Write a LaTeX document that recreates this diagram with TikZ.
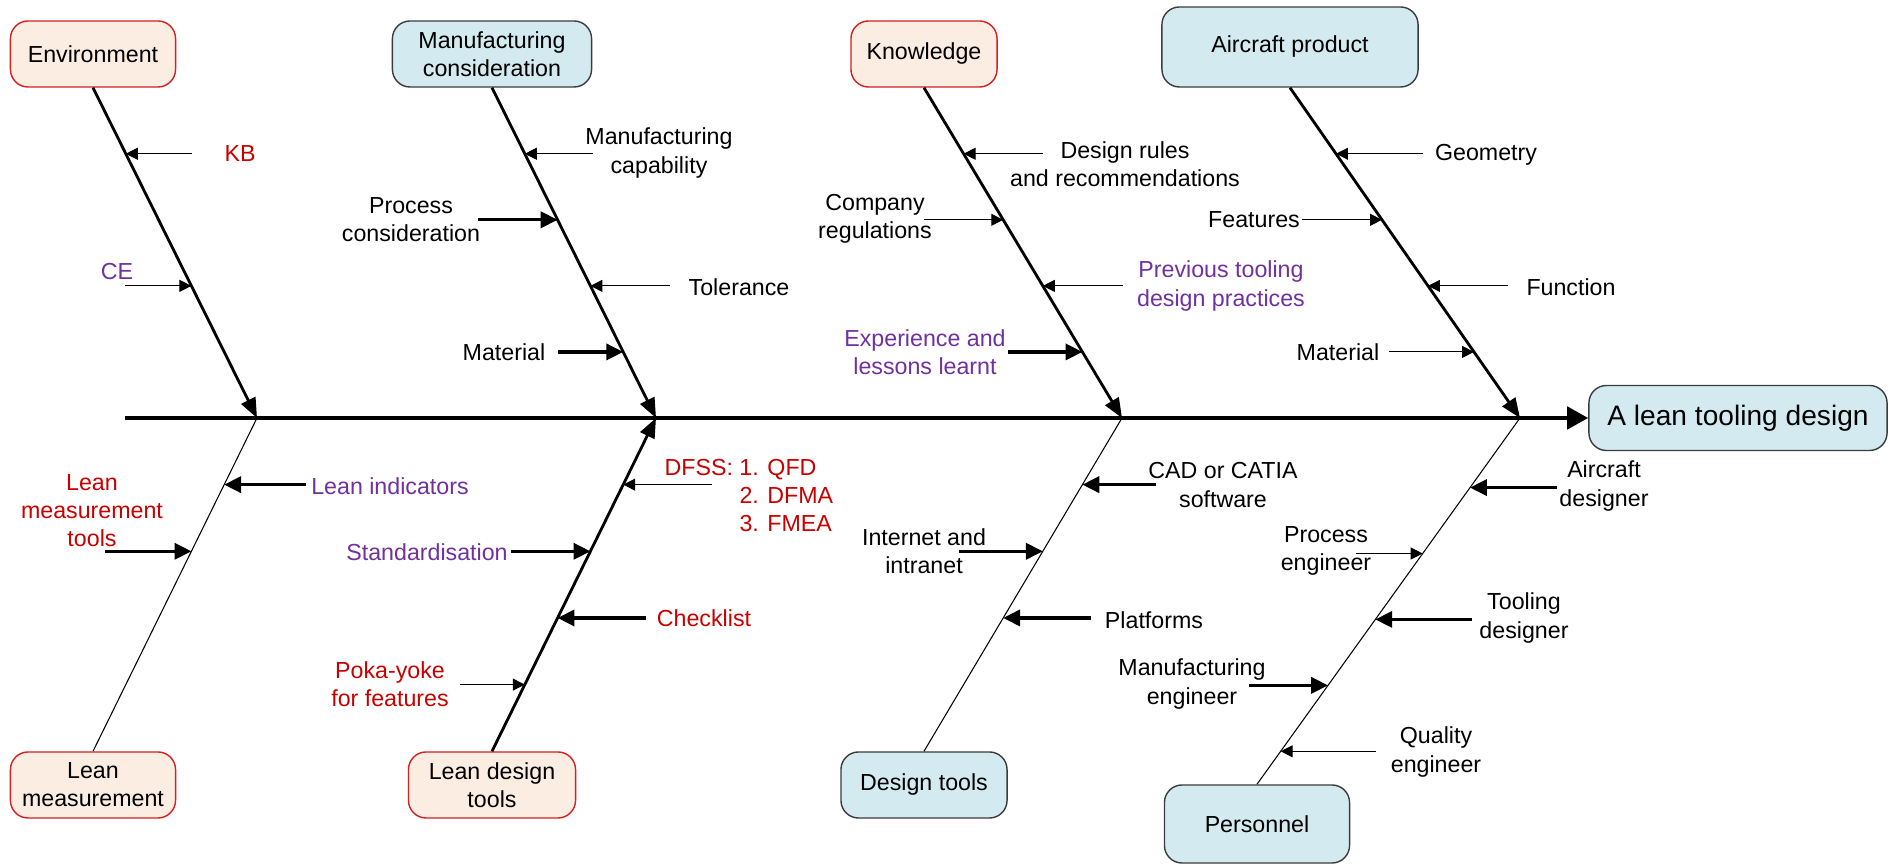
\documentclass[tikz,border=0pt]{standalone}
\usepackage{fontspec}
\setmainfont{Liberation Sans}
\usepackage{tikz}
\usetikzlibrary{arrows.meta}
\usetikzlibrary{calc}

\definecolor{peach}{HTML}{FCEDE3}
\definecolor{boxred}{HTML}{D42020}
\definecolor{paleblue}{HTML}{D3EAF0}
\definecolor{boxgrey}{HTML}{3C3C3C}
\definecolor{causered}{HTML}{C80000}
\definecolor{causepurple}{HTML}{7030A0}

\begin{document}
\begin{tikzpicture}[x=0.01cm, y=-0.01cm,
    every node/.style={font=\fontsize{6.6}{8}\selectfont, align=center, inner sep=0pt},
    redbox/.style={draw=boxred, fill=peach, rounded corners=5pt, line width=0.4pt, minimum height=0.66cm},
    bluebox/.style={draw=boxgrey, fill=paleblue, rounded corners=5pt, line width=0.4pt, minimum height=0.66cm},
    spine/.style={line width=1.3pt, -{Triangle[length=6pt, width=6.3pt]}},
    bone/.style={line width=0.8pt, -{Triangle[length=5.6pt, width=4.4pt]}},
    thinbone/.style={line width=0.3pt},
    thinarr/.style={line width=0.3pt, -{Triangle[length=3.4pt, width=3.4pt]}},
    thickarr/.style={line width=0.9pt, -{Triangle[length=4.8pt, width=4.6pt]}},
    kred/.style={text=causered},
    kpurple/.style={text=causepurple}]
    \useasboundingbox (0,0) rectangle (1896,865);

    % category boxes
    \node[redbox, minimum width=1.65cm] (env) at (93,54) {Environment};
    \node[bluebox, minimum width=1.99cm] (mfg) at (492,54) {Manufacturing\\consideration};
    \node[redbox, minimum width=1.46cm] (know) at (924,54) {Knowledge};
    \node[bluebox, minimum width=2.56cm, minimum height=0.8cm] (acp) at (1290,47) {Aircraft product};
    \node[redbox, minimum width=1.65cm] (leanm) at (93,785) {Lean\\measurement};
    \node[redbox, minimum width=1.67cm] (leand) at (492,785) {Lean design\\tools};
    \node[bluebox, minimum width=1.66cm] (dtools) at (924,785) {Design tools};
    \node[bluebox, minimum width=1.85cm, minimum height=0.78cm] (pers) at (1257,824) {Personnel};
    \node[bluebox, minimum width=2.98cm, minimum height=0.65cm, font=\fontsize{8}{9.6}\selectfont] (goal) at (1738,418) {A lean tooling design};

    % spine
    \coordinate (s0) at (125,418);
    \coordinate (s1) at (257,418);
    \coordinate (s2) at (656,418);
    \coordinate (s3) at (1122,418);
    \coordinate (s4) at (1520,418);
    \draw[spine] (s0) -- (goal.west);

    % environment
    \draw[bone] (env.south) -- (s1) coordinate[pos=.2] (en1) coordinate[pos=.6] (en2);
    \node[kred] (kb) at (240,154) {KB};
    \draw[thinarr] ($(en1)+(66,0)$) -- (en1);
    \node[kpurple] (ce) at (117,272) {CE};
    \draw[thinarr] ($(en2)-(66,0)$) -- (en2);

    % manufacturing consideration
    \draw[bone] (mfg.south) -- (s2) coordinate[pos=.2] (mf1) coordinate[pos=.4] (mf2)
        coordinate[pos=.6] (mf3) coordinate[pos=.8] (mf4);
    \node (mcap) at (659,153) {Manufacturing\\capability};
    \draw[thinarr] ($(mf1)+(68,0)$) -- (mf1);
    \node (pcons) at (411,220) {Process\\consideration};
    \draw[thickarr] ($(mf2)-(80,0)$) -- (mf2);
    \node (tol) at (739,287) {Tolerance};
    \draw[thinarr] ($(mf3)+(80,0)$) -- (mf3);
    \node (mat) at (504,352) {Material};
    \draw[thickarr] ($(mf4)-(65,0)$) -- (mf4);

    % knowledge
    \draw[bone] (know.south) -- (s3) coordinate[pos=.2] (kn1) coordinate[pos=.4] (kn2)
        coordinate[pos=.6] (kn3) coordinate[pos=.8] (kn4);
    \node (rules) at (1125,164) {Design rules\\and recommendations};
    \draw[thinarr] ($(kn1)+(79,0)$) -- (kn1);
    \node (regs) at (875,219) {Company\\regulations};
    \draw[thinarr] ($(kn2)-(79,0)$) -- (kn2);
    \node[kpurple] (prev) at (1221,286) {Previous tooling\\design practices};
    \draw[thinarr] ($(kn3)+(80,0)$) -- (kn3);
    \node[kpurple] (exp) at (925,352) {Experience and\\lessons learnt};
    \draw[thickarr] ($(kn4)-(74,0)$) -- (kn4);

    % aircraft product
    \draw[bone] (acp.south) -- (s4) coordinate[pos=.2] (ap1) coordinate[pos=.4] (ap2)
        coordinate[pos=.6] (ap3) coordinate[pos=.8] (ap4);
    \node (geom) at (1486,155) {Geometry};
    \draw[thinarr] ($(ap1)+(87,0)$) -- (ap1);
    \node (feat) at (1254,220) {Features};
    \draw[thinarr] ($(ap2)-(80,0)$) -- (ap2);
    \node (func) at (1571,287) {Function};
    \draw[thinarr] ($(ap3)+(80,0)$) -- (ap3);
    \node (amat) at (1338,352) {Material};
    \draw[thinarr] ($(ap4)-(85,0)$) -- (ap4);

    % lean measurement
    \draw[thinbone] (s1) -- (leanm.north) coordinate[pos=.2] (lm1) coordinate[pos=.4] (lm2);
    \node[kpurple] (lind) at (390,486) {Lean indicators};
    \draw[thickarr] ($(lm1)+(82,0)$) -- (lm1);
    \node[kred] (ltools) at (92,511) {Lean\\measurement\\tools};
    \draw[thickarr] ($(lm2)-(86,0)$) -- (lm2);

    % lean design tools
    \draw[bone] (leand.north) -- (s2) coordinate[pos=.2] (ld1) coordinate[pos=.4] (ld2)
        coordinate[pos=.6] (ld3) coordinate[pos=.8] (ld4);
    \node[kred] (poka) at (390,684) {Poka-yoke\\for features};
    \draw[thinarr] ($(ld1)-(65,0)$) -- (ld1);
    \node[kred] (check) at (704,618) {Checklist};
    \draw[thickarr] ($(ld2)+(88,0)$) -- (ld2);
    \node[kpurple] (std) at (427,552) {Standardisation};
    \draw[thickarr] ($(ld3)-(79,0)$) -- (ld3);
    \node[kred, anchor=west] (dfss) at (664,498)
        {\begin{tabular}{@{}l@{ }l@{}}DFSS: & 1. QFD\\ & 2. DFMA\\ & 3. FMEA\end{tabular}};
    \draw[thinarr] ($(ld4)+(89,0)$) -- (ld4);

    % design tools
    \draw[thinbone] (s3) -- (dtools.north) coordinate[pos=.2] (dt1) coordinate[pos=.4] (dt2)
        coordinate[pos=.6] (dt3);
    \node (cad) at (1223,485) {CAD or CATIA\\software};
    \draw[thickarr] ($(dt1)+(74,0)$) -- (dt1);
    \node (net) at (924,551) {Internet and\\intranet};
    \draw[thickarr] ($(dt2)-(84,0)$) -- (dt2);
    \node (plat) at (1154,620) {Platforms};
    \draw[thickarr] ($(dt3)+(88,0)$) -- (dt3);

    % personnel
    \draw[thinbone] (s4) -- (pers.north) coordinate[pos=.19] (pe1) coordinate[pos=.37] (pe2)
        coordinate[pos=.55] (pe3) coordinate[pos=.73] (pe4) coordinate[pos=.91] (pe5);
    \node (adsg) at (1604,486) {Aircraft\\designer};
    \draw[thickarr] ($(pe1)+(87,0)$) -- (pe1);
    \node (peng) at (1326,551) {Process\\engineer};
    \draw[thinarr] ($(pe2)-(67,0)$) -- (pe2);
    \node (tdsg) at (1524,618) {Tooling\\designer};
    \draw[thickarr] ($(pe3)+(97,0)$) -- (pe3);
    \node (meng) at (1192,684) {Manufacturing\\engineer};
    \draw[thickarr] ($(pe4)-(79,0)$) -- (pe4);
    \node (qeng) at (1436,752) {Quality\\engineer};
    \draw[thinarr] ($(pe5)+(95,0)$) -- (pe5);
\end{tikzpicture}
\end{document}
